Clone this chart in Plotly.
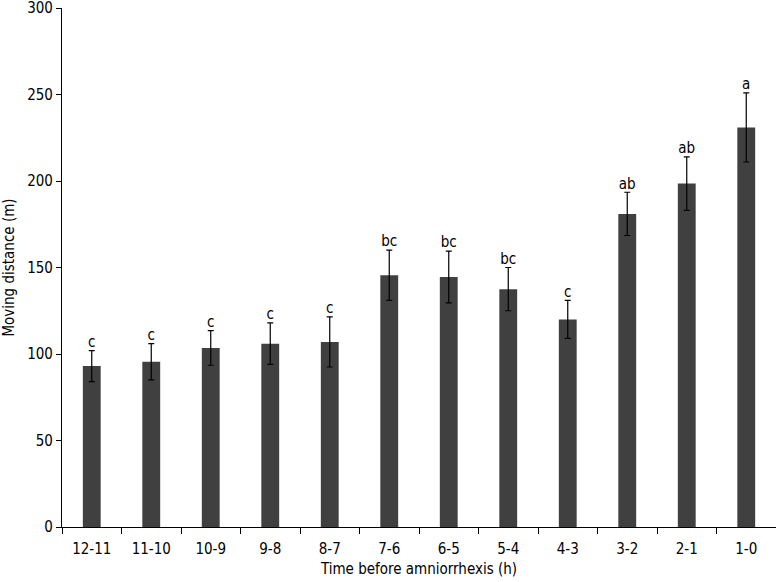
import plotly.graph_objects as go

# Moving distance per hour before amniorrhexis
hours = ['12-11', '11-10', '10-9', '9-8', '8-7', '7-6', '6-5', '5-4', '4-3', '3-2', '2-1', '1-0']
distance = [93, 95.5, 103.5, 106, 107, 145.5, 144.5, 137.5, 120, 181, 198.5, 231]
sem = [9, 10.5, 10, 12, 14.5, 14.5, 15, 12.5, 11, 12.5, 15.5, 20]
letters = ['c', 'c', 'c', 'c', 'c', 'bc', 'bc', 'bc', 'c', 'ab', 'ab', 'a']

font = 'DejaVu Sans Condensed, Liberation Sans Narrow, sans-serif'

fig = go.Figure()

fig.add_trace(go.Bar(
    x=hours,
    y=distance,
    width=0.3,
    marker={'color': '#404040', 'line': {'width': 0}},
    error_y={'type': 'data', 'array': sem, 'visible': True,
             'color': 'black', 'thickness': 1.2, 'width': 3},
    showlegend=False,
))

# significance letters sit on top of the error bars
fig.add_trace(go.Scatter(
    x=hours,
    y=[d + e for d, e in zip(distance, sem)],
    mode='text',
    text=letters,
    textposition='top center',
    textfont={'size': 15, 'color': 'black', 'family': font},
    showlegend=False,
    cliponaxis=False,
))

fig.update_layout({
    'width': 776,
    'height': 582,
    'margin': {'l': 62, 'r': 0, 't': 8, 'b': 55},
    'plot_bgcolor': 'white',
    'paper_bgcolor': 'white',
    'font': {'family': font, 'size': 15, 'color': 'black'},
    'bargap': 0.7,
    'xaxis': {
        'type': 'category', 'automargin': False, 'range': [-0.5, 11.5],
        'title': {'text': 'Time before amniorrhexis (h)', 'standoff': 6, 'font': {'size': 15}},
        'showline': True, 'linecolor': 'black', 'linewidth': 1.2,
        'ticks': 'outside', 'tickson': 'boundaries', 'ticklen': 6, 'tickcolor': 'black',
        'ticklabelstandoff': 8,
        'showgrid': False, 'zeroline': False,
    },
    'yaxis': {
        'automargin': False, 'ticklabeloverflow': 'allow',
        'title': {'text': 'Moving distance (m)', 'standoff': 8, 'font': {'size': 15}},
        'range': [0, 300.01], 'tickvals': [0, 50, 100, 150, 200, 250, 300],
        'showline': True, 'linecolor': 'black', 'linewidth': 1.2,
        'ticks': 'outside', 'ticklen': 5, 'tickcolor': 'black',
        'showgrid': False, 'zeroline': False,
    },
})

# the page body has a default 8px margin; drop it so the figure fills the window
fig.write_html("out.html", config={'displayModeBar': False},
               post_script="document.body.style.margin='0';document.body.style.overflow='hidden';")
